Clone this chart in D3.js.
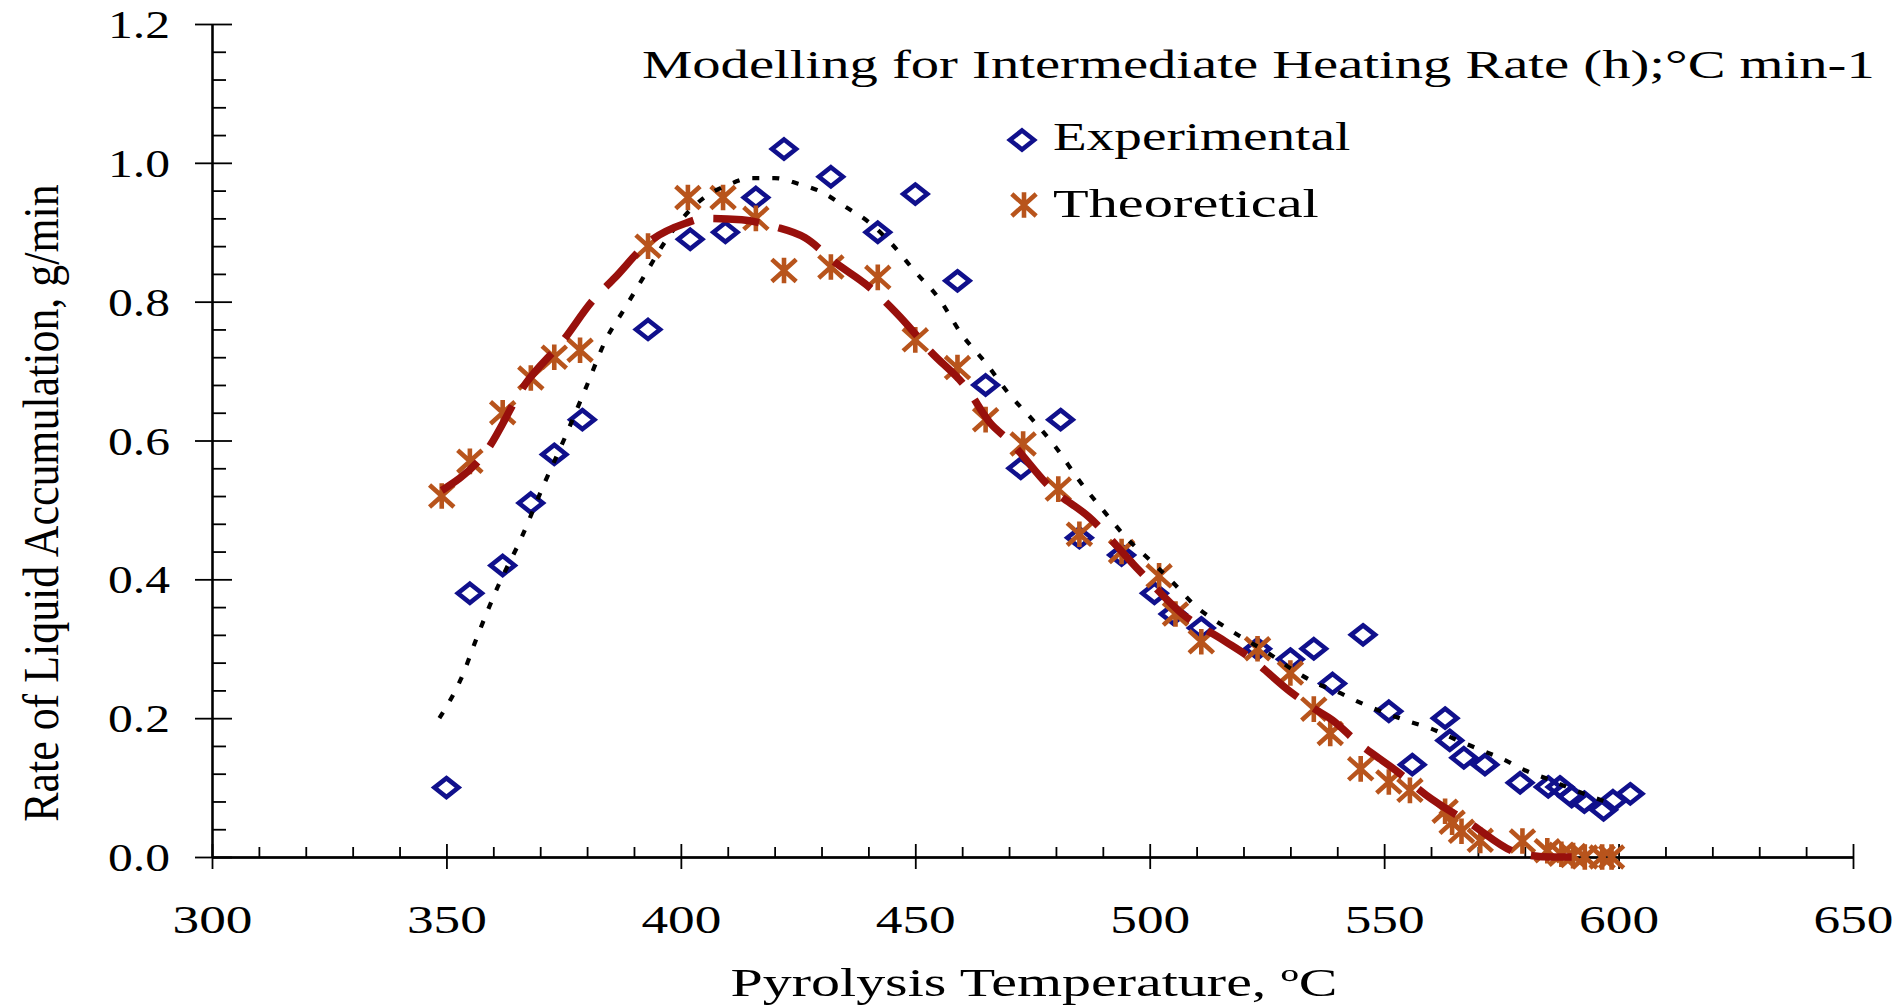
<!DOCTYPE html>
<html>
<head>
<meta charset="utf-8">
<script src="https://cdn.jsdelivr.net/npm/d3@7"></script>
<style>
  html, body { margin: 0; padding: 0; background: #fff; }
  svg { display: block; }
  text { font-family: "Liberation Serif", "Times New Roman", serif; fill: #000; }
</style>
</head>
<body>
<svg id="chart" width="1899" height="1005"></svg>
<script>
// Axis tick values
const xTicks = [300, 350, 400, 450, 500, 550, 600, 650];
const yTicks = [0.0, 0.2, 0.4, 0.6, 0.8, 1.0, 1.2];

// Experimental rate of liquid accumulation (g/min) vs pyrolysis temperature (°C)
const expTemp = [350, 355, 362, 368, 373, 379, 393, 402, 409.5, 416, 422, 432, 442, 450, 459, 465, 472.5, 481, 485, 494,
                 501, 505, 511, 523, 530, 535, 539, 545.5, 551, 556, 563, 564, 567, 571.5, 579, 585, 587.5, 590, 592.7, 596.8, 598.8, 602.5];
const expRate = [0.10, 0.38, 0.42, 0.51, 0.58, 0.63, 0.76, 0.89, 0.90, 0.95, 1.02, 0.98, 0.90, 0.955, 0.83, 0.68, 0.56, 0.63, 0.46, 0.435,
                 0.38, 0.35, 0.33, 0.30, 0.285, 0.30, 0.25, 0.32, 0.21, 0.133, 0.20, 0.168, 0.143, 0.133, 0.107, 0.101, 0.101, 0.087, 0.079, 0.068, 0.081, 0.091];

// Theoretical rate of liquid accumulation (g/min)
const theoTemp = [349, 355, 362, 368, 373, 378.5, 393, 401.5, 409, 416, 422, 432, 442, 450, 459, 465, 473, 480.5, 485, 494,
                  502, 505.5, 511, 523, 530, 535, 538.5, 545, 551, 555.5, 563, 564.5, 566.5, 570.5, 579.5, 584.8, 587.8, 590.3, 592.8, 596.5, 598.5];
const theoRate = [0.52, 0.57, 0.64, 0.69, 0.72, 0.73, 0.88, 0.95, 0.95, 0.92, 0.845, 0.85, 0.835, 0.745, 0.705, 0.63, 0.595, 0.53, 0.465, 0.44,
                  0.405, 0.35, 0.31, 0.30, 0.265, 0.213, 0.178, 0.127, 0.108, 0.096, 0.066, 0.05, 0.037, 0.024, 0.023, 0.009, 0.004, 0.002, 0.0, 0.0, 0.0];

// Kinetic model curve (dark red, long dashes)
const modelTemp = [349, 358, 367, 375, 381, 386, 393, 401, 405, 413, 420, 426.5, 433, 440, 448, 453, 461, 466, 470, 479,
                   487, 498, 507, 516, 521, 530, 535, 539, 544, 553, 559, 568, 579, 586, 590];
const modelRate = [0.528, 0.58, 0.683, 0.745, 0.80, 0.835, 0.885, 0.913, 0.92, 0.918, 0.908, 0.892, 0.856, 0.822, 0.769, 0.73, 0.675, 0.625, 0.60, 0.531,
                   0.49, 0.411, 0.35, 0.311, 0.289, 0.238, 0.214, 0.197, 0.167, 0.122, 0.089, 0.05, 0.005, 0.0, 0.0];

// Trend line through the experimental points (black, dotted)
const trendTemp = [348.5, 353, 357, 361, 366, 371, 375, 380, 384, 388, 392, 397, 401, 405, 410, 415, 420, 425, 430, 435,
                   440, 445, 450, 455, 460, 465, 470, 475, 480, 485, 490, 495, 500, 505, 510, 515, 520, 525, 530, 535,
                   540, 545, 550, 555, 560, 565, 570, 575, 580, 585, 590, 595, 598];
const trendRate = [0.20, 0.255, 0.325, 0.39, 0.46, 0.54, 0.60, 0.68, 0.745, 0.79, 0.835, 0.89, 0.925, 0.95, 0.968, 0.978, 0.978, 0.97, 0.958, 0.937,
                   0.915, 0.883, 0.843, 0.805, 0.752, 0.712, 0.667, 0.63, 0.59, 0.542, 0.50, 0.46, 0.428, 0.395, 0.36, 0.336, 0.315, 0.295, 0.272, 0.252,
                   0.238, 0.222, 0.208, 0.196, 0.185, 0.17, 0.156, 0.142, 0.125, 0.112, 0.098, 0.085, 0.078];

const chartTitle = "Modelling for Intermediate Heating Rate (h);\u00B0C min-1";
const xTitle = "Pyrolysis Temperature, \u00BAC";
const yTitle = "Rate of Liquid Accumulation, g/min";
const seriesNames = ["Experimental", "Theoretical"];

const NAVY = "#10108c";
const ORANGE = "#b8541c";
const DARKRED = "#98100c";

const svg = d3.select("#chart");
svg.append("rect").attr("width", 1899).attr("height", 1005).attr("fill", "#fff");

const x = d3.scaleLinear().domain([300, 650]).range([212, 1853]);
const y = d3.scaleLinear().domain([0, 1.2]).range([857, 24]);

const xMinor = d3.range(300, 651, 10).filter(v => v % 50 !== 0);
const yMinor = d3.range(0, 121, 4).map(v => v / 100).filter(v => Math.round(v * 100) % 20 !== 0);

// ---- axes ----
const axisStyle = g => {
  g.selectAll("path, line").attr("stroke", "#000").attr("stroke-width", 1.8);
};

// x axis: major ticks cross the axis line, minor ticks point into the plot
svg.append("g").attr("transform", `translate(0,${y(0)})`)
  .call(d3.axisTop(x).tickValues(xMinor).tickSize(10).tickSizeOuter(0).tickFormat(""))
  .call(axisStyle);
svg.append("g").attr("transform", `translate(0,${y(0)})`)
  .call(d3.axisTop(x).tickValues(xTicks).tickSize(13).tickSizeOuter(0).tickFormat(""))
  .call(axisStyle);
const xAxisG = svg.append("g").attr("transform", `translate(0,${y(0)})`)
  .call(d3.axisBottom(x).tickValues(xTicks).tickSize(12).tickSizeOuter(0).tickFormat(d3.format("d")))
  .call(axisStyle);
xAxisG.selectAll("text")
  .attr("y", 76).attr("dy", null)
  .attr("font-size", 41)
  .attr("transform", "scale(1.3,1)")
  .attr("fill", "#000");

// y axis
svg.append("g").attr("transform", `translate(${x(300)},0)`)
  .call(d3.axisRight(y).tickValues(yMinor).tickSize(14).tickSizeOuter(0).tickFormat(""))
  .call(axisStyle);
svg.append("g").attr("transform", `translate(${x(300)},0)`)
  .call(d3.axisRight(y).tickValues(yTicks).tickSize(20).tickSizeOuter(0).tickFormat(""))
  .call(axisStyle);
const yAxisG = svg.append("g").attr("transform", `translate(${x(300)},0)`)
  .call(d3.axisLeft(y).tickValues(yTicks).tickSize(17).tickSizeOuter(0).tickFormat(d3.format(".1f")))
  .call(axisStyle);
yAxisG.selectAll("text")
  .attr("x", -42 / 1.24).attr("dy", "0.34em")
  .attr("font-size", 40)
  .attr("transform", "scale(1.24,1)")
  .attr("fill", "#000");

// ---- lines ----
const lineGen = d3.line().x(d => x(d[0])).y(d => y(d[1])).curve(d3.curveMonotoneX);

// ---- markers ----
const diamondPath = (hw, hh) => `M0,${-hh}L${hw},0L0,${hh}L${-hw},0Z`;
const starPath = (hw, hh) =>
  `M${-hw},${-hh}L${hw},${hh}M${-hw},${hh}L${hw},${-hh}M0,${-hh - 1}L0,${hh + 1}`;

const expData = d3.zip(expTemp, expRate);
const theoData = d3.zip(theoTemp, theoRate);

svg.append("g").selectAll("path")
  .data(expData).join("path")
  .attr("d", diamondPath(12, 9.5))
  .attr("transform", d => `translate(${x(d[0])},${y(d[1])})`)
  .attr("fill", "none").attr("stroke", NAVY).attr("stroke-width", 4.6)
  .attr("stroke-linejoin", "miter");

svg.append("g").selectAll("path")
  .data(theoData).join("path")
  .attr("d", starPath(10.5, 9.5))
  .attr("transform", d => `translate(${x(d[0])},${y(d[1])})`)
  .attr("fill", "none").attr("stroke", ORANGE).attr("stroke-width", 4.6)
  .attr("stroke-linecap", "square");

svg.append("path")
  .datum(d3.zip(trendTemp, trendRate))
  .attr("d", lineGen)
  .attr("fill", "none").attr("stroke", "#000")
  .attr("stroke-width", 4.2).attr("stroke-dasharray", "7,13");

svg.append("path")
  .datum(d3.zip(modelTemp, modelRate))
  .attr("d", lineGen)
  .attr("fill", "none").attr("stroke", DARKRED)
  .attr("stroke-width", 7.5).attr("stroke-dasharray", "46,20");

// ---- text ----
const stretched = (px, py, str, size, sx, anchor) =>
  svg.append("text")
    .attr("transform", `translate(${px},${py}) scale(${sx},1)`)
    .attr("font-size", size)
    .attr("text-anchor", anchor || "start")
    .text(str);

stretched(642, 78, chartTitle, 40, 1.415, "start");
stretched(1034, 996, xTitle, 40, 1.45, "middle");

svg.append("text")
  .attr("transform", "translate(58,503) rotate(-90) scale(1.045,1.2)")
  .attr("font-size", 42)
  .attr("text-anchor", "middle")
  .text(yTitle);

// ---- legend ----
const legend = svg.append("g");
legend.append("path")
  .attr("d", diamondPath(12, 9.5))
  .attr("transform", "translate(1022,140)")
  .attr("fill", "none").attr("stroke", NAVY).attr("stroke-width", 4.6);
legend.append("path")
  .attr("d", starPath(10.5, 9.5))
  .attr("transform", "translate(1024,205)")
  .attr("fill", "none").attr("stroke", ORANGE).attr("stroke-width", 4.6)
  .attr("stroke-linecap", "square");
stretched(1053, 150, seriesNames[0], 40, 1.38, "start");
stretched(1053, 217, seriesNames[1], 40, 1.46, "start");
</script>
</body>
</html>
